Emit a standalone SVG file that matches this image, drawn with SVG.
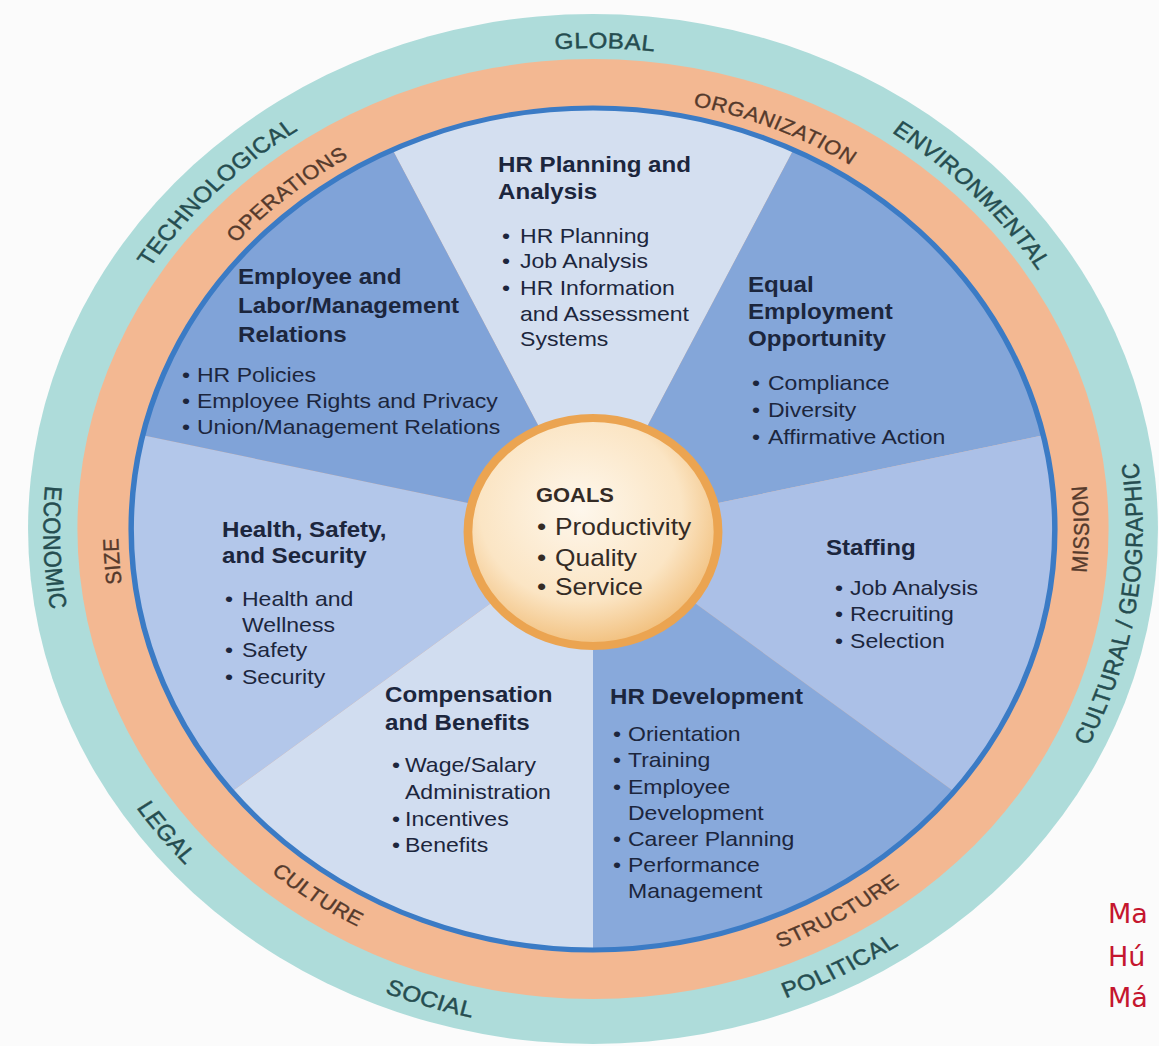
<svg xmlns="http://www.w3.org/2000/svg" width="1159" height="1046" viewBox="0 0 1159 1046">
<defs>
<style>
text { font-family: "Liberation Sans", Arial, sans-serif; }
.tl { font-size:22px; fill:#254d50; stroke:#254d50; stroke-width:0.45px; letter-spacing:0.5px; }
.ol { font-size:20px; fill:#553a2c; stroke:#553a2c; stroke-width:0.35px; letter-spacing:0.5px; }
.ti { font-size:22px; font-weight:bold; fill:#1c263d; }
.bu { font-size:21px; fill:#1c263d; }
.gt { font-size:20px; font-weight:bold; fill:#342b25; }
.gb { font-size:24px; fill:#342b25; }
.red { font-family: "DejaVu Sans", "Liberation Sans", sans-serif; font-size:27px; fill:#c5162e; }
</style>
<radialGradient id="goalFill" cx="0.45" cy="0.4" r="0.62">
<stop offset="0" stop-color="#fef7ec"/>
<stop offset="0.65" stop-color="#fbe5c4"/>
<stop offset="1" stop-color="#f1bd78"/>
</radialGradient>
<path id="pGlobal" d="M -448.1 -174.7 A 481 481 0 0 1 455.6 -154.2"/>
<path id="pTech" d="M -434.1 207.1 A 481 481 0 0 1 199.5 -437.7"/>
<path id="pEnv" d="M -195.6 -439.4 A 481 481 0 0 1 432.3 210.9"/>
<path id="pCult" d="M 95.6 491.8 A 501 501 0 0 0 242.9 -438.2"/>
<path id="pPol" d="M -340.4 367.6 A 501 501 0 0 0 497.0 -62.8"/>
<path id="pSoc" d="M -500.5 21.9 A 501 501 0 0 0 397.5 305.0"/>
<path id="pLegal" d="M -424.8 -265.5 A 501 501 0 0 0 154.8 476.5"/>
<path id="pEcon" d="M -189.3 -463.9 A 501 501 0 0 0 -153.2 477.0"/>
<path id="pOrg" d="M -319.2 -292.5 A 433 433 0 0 1 432.6 18.9"/>
<path id="pOps" d="M -407.4 146.7 A 433 433 0 0 1 217.8 -374.2"/>
<path id="pSize" d="M -117.9 416.6 A 433 433 0 0 1 -177.5 -394.9"/>
<path id="pMission" d="M 154.6 424.7 A 452 452 0 0 0 154.6 -424.7"/>
<path id="pStruct" d="M -289.3 347.3 A 452 452 0 0 0 444.9 -80.1"/>
<path id="pCulture" d="M -437.8 -112.4 A 452 452 0 0 0 263.1 367.5"/>
</defs>
<rect width="1159" height="1046" fill="#fbfbfb"/>
<g transform="translate(593 529) scale(1.097 1)">
<g id="environment-ring">
<circle r="515" fill="#aedcda"/>
<text class="tl" text-anchor="middle"><textPath href="#pGlobal" startOffset="50%">GLOBAL</textPath></text>
<text class="tl" text-anchor="middle"><textPath href="#pTech" startOffset="50%">TECHNOLOGICAL</textPath></text>
<text class="tl" text-anchor="middle"><textPath href="#pEnv" startOffset="50%">ENVIRONMENTAL</textPath></text>
<text class="tl" text-anchor="middle"><textPath href="#pCult" startOffset="50%">CULTURAL / GEOGRAPHIC</textPath></text>
<text class="tl" text-anchor="middle"><textPath href="#pPol" startOffset="50%">POLITICAL</textPath></text>
<text class="tl" text-anchor="middle"><textPath href="#pSoc" startOffset="50%">SOCIAL</textPath></text>
<text class="tl" text-anchor="middle"><textPath href="#pLegal" startOffset="50%">LEGAL</textPath></text>
<text class="tl" text-anchor="middle"><textPath href="#pEcon" startOffset="50%">ECONOMIC</textPath></text>
</g>
<g id="organization-ring">
<circle r="470" fill="#f3b892"/>
<text class="ol" text-anchor="middle"><textPath href="#pOrg" startOffset="50%">ORGANIZATION</textPath></text>
<text class="ol" text-anchor="middle"><textPath href="#pOps" startOffset="50%">OPERATIONS</textPath></text>
<text class="ol" text-anchor="middle"><textPath href="#pSize" startOffset="50%">SIZE</textPath></text>
<text class="ol" text-anchor="middle"><textPath href="#pMission" startOffset="50%">MISSION</textPath></text>
<text class="ol" text-anchor="middle"><textPath href="#pStruct" startOffset="50%">STRUCTURE</textPath></text>
<text class="ol" text-anchor="middle"><textPath href="#pCulture" startOffset="50%">CULTURE</textPath></text>
</g>
<g id="hr-planning">
<path d="M0 0 L-182.7 -379.3 A421 421 0 0 1 182.7 -379.3 Z" fill="#d4dff0"/>
<text class="ti"><tspan x="-86.6" y="-357">HR Planning and</tspan><tspan x="-86.6" y="-330">Analysis</tspan></text>
<text class="bu"><tspan x="-83" y="-286">•</tspan><tspan x="-66.5" y="-286">HR Planning</tspan><tspan x="-83" y="-261">•</tspan><tspan x="-66.5" y="-261">Job Analysis</tspan><tspan x="-83" y="-234">•</tspan><tspan x="-66.5" y="-234">HR Information</tspan><tspan x="-66.5" y="-208">and Assessment</tspan><tspan x="-66.5" y="-183">Systems</tspan></text>
</g>
<g id="equal-employment">
<path d="M0 0 L182.7 -379.3 A421 421 0 0 1 410.4 -93.7 Z" fill="#84a6d9"/>
<text class="ti"><tspan x="141.3" y="-237">Equal</tspan><tspan x="141.3" y="-210">Employment</tspan><tspan x="141.3" y="-183">Opportunity</tspan></text>
<text class="bu"><tspan x="145" y="-139">•</tspan><tspan x="159.5" y="-139">Compliance</tspan><tspan x="145" y="-112">•</tspan><tspan x="159.5" y="-112">Diversity</tspan><tspan x="145" y="-85">•</tspan><tspan x="159.5" y="-85">Affirmative Action</tspan></text>
</g>
<g id="staffing">
<path d="M0 0 L410.4 -93.7 A421 421 0 0 1 329.1 262.5 Z" fill="#abc0e7"/>
<text class="ti" x="212.4" y="26">Staffing</text>
<text class="bu"><tspan x="220.6" y="66">•</tspan><tspan x="234.3" y="66">Job Analysis</tspan><tspan x="220.6" y="92">•</tspan><tspan x="234.3" y="92">Recruiting</tspan><tspan x="220.6" y="119">•</tspan><tspan x="234.3" y="119">Selection</tspan></text>
</g>
<g id="hr-development">
<path d="M0 0 L329.1 262.5 A421 421 0 0 1 0 421 Z" fill="#88a9db"/>
<text class="ti" x="15.5" y="175">HR Development</text>
<text class="bu"><tspan x="18.2" y="212">•</tspan><tspan x="31.9" y="212">Orientation</tspan><tspan x="18.2" y="238">•</tspan><tspan x="31.9" y="238">Training</tspan><tspan x="18.2" y="265">•</tspan><tspan x="31.9" y="265">Employee</tspan><tspan x="31.9" y="291">Development</tspan><tspan x="18.2" y="317">•</tspan><tspan x="31.9" y="317">Career Planning</tspan><tspan x="18.2" y="343">•</tspan><tspan x="31.9" y="343">Performance</tspan><tspan x="31.9" y="369">Management</tspan></text>
</g>
<g id="compensation">
<path d="M0 0 L0 421 A421 421 0 0 1 -329.1 262.5 Z" fill="#d1ddf0"/>
<text class="ti"><tspan x="-189.6" y="173">Compensation</tspan><tspan x="-189.6" y="201">and Benefits</tspan></text>
<text class="bu"><tspan x="-183.2" y="243">•</tspan><tspan x="-171.4" y="243">Wage/Salary</tspan><tspan x="-171.4" y="270">Administration</tspan><tspan x="-183.2" y="297">•</tspan><tspan x="-171.4" y="297">Incentives</tspan><tspan x="-183.2" y="323">•</tspan><tspan x="-171.4" y="323">Benefits</tspan></text>
</g>
<g id="health-safety">
<path d="M0 0 L-329.1 262.5 A421 421 0 0 1 -410.4 -93.7 Z" fill="#b3c7ea"/>
<text class="ti"><tspan x="-338.2" y="8">Health, Safety,</tspan><tspan x="-338.2" y="34">and Security</tspan></text>
<text class="bu"><tspan x="-335.5" y="77">•</tspan><tspan x="-320" y="77">Health and</tspan><tspan x="-320" y="103">Wellness</tspan><tspan x="-335.5" y="128">•</tspan><tspan x="-320" y="128">Safety</tspan><tspan x="-335.5" y="155">•</tspan><tspan x="-320" y="155">Security</tspan></text>
</g>
<g id="employee-relations">
<path d="M0 0 L-410.4 -93.7 A421 421 0 0 1 -182.7 -379.3 Z" fill="#80a3d8"/>
<text class="ti"><tspan x="-323.6" y="-245">Employee and</tspan><tspan x="-323.6" y="-216">Labor/Management</tspan><tspan x="-323.6" y="-187">Relations</tspan></text>
<text class="bu"><tspan x="-374.7" y="-147">•</tspan><tspan x="-361" y="-147">HR Policies</tspan><tspan x="-374.7" y="-121">•</tspan><tspan x="-361" y="-121">Employee Rights and Privacy</tspan><tspan x="-374.7" y="-95">•</tspan><tspan x="-361" y="-95">Union/Management Relations</tspan></text>
</g>
<circle r="421" fill="none" stroke="#3b7bc5" stroke-width="5"/>
<g id="goals">
<circle cx="0" cy="3" r="114" fill="url(#goalFill)" stroke="#eba451" stroke-width="8"/>
<text class="gt" x="-52" y="-27">GOALS</text>
<text class="gb"><tspan x="-51" y="6">•</tspan><tspan x="-34.6" y="6">Productivity</tspan><tspan x="-51" y="37">•</tspan><tspan x="-34.6" y="37">Quality</tspan><tspan x="-51" y="66">•</tspan><tspan x="-34.6" y="66">Service</tspan></text>
</g>
</g>
<g id="slide-caption">
<text class="red" x="1108" y="923">Ma</text>
<text class="red" x="1108" y="966">Hú</text>
<text class="red" x="1108" y="1007">Má</text>
</g>
</svg>
